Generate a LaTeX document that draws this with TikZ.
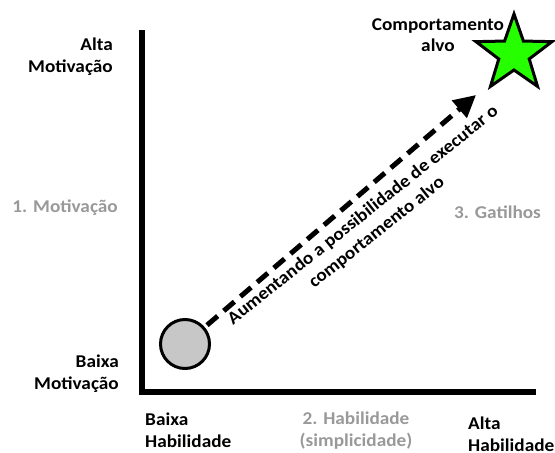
\documentclass[tikz,border=0pt]{standalone}
\usepackage{fontspec}
\setmainfont{Carlito}[FakeStretch=1.07]
\usetikzlibrary{arrows.meta,shapes.geometric}
\begin{document}
\begin{tikzpicture}[x=1pt,y=-1pt,
  lbl/.style={font=\bfseries\fontsize{18}{21.5}\selectfont, inner sep=0pt},
  faint/.style={lbl, text=black!40},
  axis/.style={line width=6pt},
  startdot/.style={circle, draw=black, line width=3pt, fill=black!22, minimum size=49pt, inner sep=0pt},
  goal/.style={star, star points=5, star point ratio=2.5, draw=black, line width=3pt,
               fill=green!80!lime, minimum size=80pt, inner sep=0pt},
  progress/.style={line width=5pt, dash pattern=on 14pt off 8pt, shorten <=3pt,
               -{Triangle[length=22pt,width=22pt]}}
]
\useasboundingbox (0,0) rectangle (555,453);

% axes
\coordinate (top) at (142,30);
\coordinate (origin) at (142,392);
\coordinate (right) at (536,392);
\draw[axis, line cap=butt, line join=miter] (top) -- (origin) -- (right);

% axis labels
\node[lbl, anchor=north east, align=right] (altamot) at (113,38) {Alta\\Motivação};
\node[faint, anchor=east] (mot) at (118,208) {1. Motivação};
\node[lbl, anchor=north east, align=right] (baixamot) at (119,355) {Baixa\\Motivação};
\node[lbl, anchor=north west, align=left] (baixahab) at (145,413) {Baixa\\Habilidade};
\node[faint, anchor=north, align=center] (hab) at (356,412) {2. Habilidade\\(simplicidade)};
\node[lbl, anchor=north west, align=left] (altahab) at (468,417) {Alta\\Habilidade};
\node[faint, anchor=west] (gat) at (454,212) {3. Gatilhos};

% start point and target behaviour
\node[startdot] (start) at (185,344) {};
\node[goal] (target) at (514,54) {};
\node[lbl, anchor=north, align=center] (targetlbl) at (438,18) {Comportamento\\alvo};

% rising path towards the target
\coordinate (tip) at (476,95);
\draw[progress] (start) -- (tip);
\node[lbl, font=\bfseries\fontsize{18}{22}\selectfont, align=center, rotate=38.5] (pathlbl) at (370,224)
  {Aumentando a possibilidade de executar o\\comportamento alvo};
\end{tikzpicture}
\end{document}
